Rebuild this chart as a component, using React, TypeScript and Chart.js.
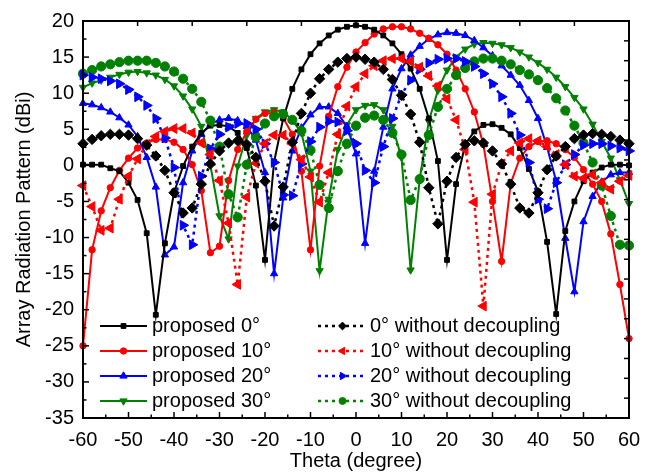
import React, { useEffect, useRef } from 'react';
import { Chart, registerables } from 'chart.js';

Chart.register(...registerables);

const theta = [-60, -58, -56, -54, -52, -50, -48, -46, -44, -42, -40, -38, -36, -34, -32, -30, -28, -26, -24, -22, -20, -18, -16, -14, -12, -10, -8, -6, -4, -2, 0, 2, 4, 6, 8, 10, 12, 14, 16, 18, 20, 22, 24, 26, 28, 30, 32, 34, 36, 38, 40, 42, 44, 46, 48, 50, 52, 54, 56, 58, 60];

const proposed0 = [0.1, 0.1, 0.1, -0.4, -0.8, -2.4, -4.8, -9.4, -20.7, -10.8, -3.8, -0.1, 2.6, 4.5, 5.5, 5.6, 5.4, 4.5, 2.4, -2.8, -13.1, 0.5, 6.5, 10.6, 13.3, 15.4, 16.9, 18.0, 18.8, 19.2, 19.4, 19.2, 18.8, 18.0, 16.9, 15.4, 13.4, 10.6, 6.5, 0.6, -13.1, -2.6, 2.9, 4.7, 5.6, 5.7, 5.2, 4.3, 2.4, -0.5, -3.6, -10.6, -20.6, -9.1, -5.0, -2.2, -1.0, -0.3, 0.1, 0.1, 0.0];
const proposed10 = [-25.0, -11.7, -6.3, -3.1, -0.7, 1.0, 2.4, 3.1, 3.6, 3.6, 3.2, 2.2, 0.1, -3.5, -12.1, -11.2, -2.1, 2.2, 4.7, 6.4, 7.2, 7.3, 6.6, 4.3, -0.8, -11.7, -0.1, 6.8, 10.9, 13.6, 15.7, 17.0, 18.2, 18.9, 19.2, 19.2, 18.9, 18.3, 17.6, 16.7, 15.4, 13.2, 10.6, 7.4, 2.9, -5.0, -13.3, -2.5, 1.0, 2.6, 3.3, 3.4, 3.0, 2.2, 1.1, -0.6, -2.6, -5.0, -9.5, -16.5, -24.0];
const proposed20 = [8.6, 8.4, 8.0, 7.4, 6.6, 5.6, 4.0, 1.1, -3.0, -12.4, -11.3, -2.4, 2.0, 4.3, 5.7, 6.3, 6.5, 6.2, 5.4, 3.5, -1.0, -15.0, -4.5, 2.0, 5.2, 7.0, 8.1, 8.1, 7.2, 5.4, 1.6, -10.8, -0.8, 5.3, 10.6, 13.4, 15.3, 16.5, 17.5, 18.1, 18.4, 18.3, 18.0, 17.3, 16.3, 15.2, 13.8, 12.5, 11.1, 9.0, 6.5, 2.5, -2.2, -10.1, -17.5, -7.8, -4.3, -2.3, -1.3, -1.0, -1.0];
const proposed30 = [10.8, 11.4, 11.8, 12.2, 12.6, 12.9, 13.0, 12.8, 12.5, 11.9, 11.0, 9.6, 7.8, 5.4, 0.0, -7.0, -10.2, -0.1, 4.2, 6.5, 7.4, 7.7, 7.4, 6.3, 4.5, -0.8, -14.6, -4.7, 2.2, 5.6, 7.7, 8.3, 8.4, 7.7, 5.4, 1.1, -14.5, -1.9, 6.1, 10.4, 13.2, 15.0, 16.1, 16.8, 17.0, 16.9, 16.7, 16.3, 15.7, 15.0, 14.2, 13.3, 12.2, 10.9, 9.4, 7.8, 5.7, 3.3, 1.0, -2.0, -5.3];

const noDecoupling0 = [3.0, 3.6, 4.1, 4.3, 4.3, 4.2, 3.7, 2.8, 1.3, -0.7, -3.8, -6.6, -5.9, -2.6, 0.2, 2.0, 3.1, 3.4, 2.9, 1.1, -2.2, -8.4, -3.0, 3.2, 7.2, 10.0, 12.0, 13.3, 14.3, 14.8, 15.0, 14.7, 14.3, 13.3, 11.9, 9.7, 7.1, 3.2, -3.1, -8.1, -2.2, 1.1, 2.9, 3.4, 3.1, 2.0, 0.2, -2.6, -5.9, -6.6, -3.8, -0.6, 1.3, 2.6, 3.7, 4.2, 4.4, 4.3, 4.0, 3.5, 3.0];
const noDecoupling10 = [-2.8, -5.7, -9.0, -8.7, -4.7, -1.5, 0.9, 2.9, 4.0, 4.7, 5.1, 5.1, 4.5, 3.1, 1.5, -2.1, -8.0, -16.5, -4.4, 0.3, 3.0, 4.2, 4.2, 3.0, 0.8, -1.6, -5.1, -1.0, 4.3, 8.2, 10.9, 12.7, 13.8, 14.5, 14.8, 14.8, 14.4, 13.6, 12.4, 11.0, 9.2, 6.3, 2.2, -5.1, -19.5, -4.0, 0.2, 2.0, 3.1, 3.7, 3.4, 2.6, 1.5, 0.1, -1.5, -1.8, -1.3, -2.4, -3.3, -2.2, -1.4];
const noDecoupling20 = [12.5, 12.2, 12.0, 11.7, 11.3, 10.5, 9.5, 8.3, 6.5, 3.8, -0.3, -8.3, -11.0, -1.5, 2.3, 4.3, 5.3, 5.8, 5.8, 5.0, 3.0, 0.4, -4.1, -4.2, 0.2, 3.3, 5.3, 6.1, 6.0, 4.8, 3.0, -0.7, -2.4, 2.6, 6.5, 9.8, 11.8, 13.3, 14.2, 14.7, 14.8, 14.8, 14.4, 13.7, 12.7, 11.3, 9.5, 7.2, 4.2, 0.4, -4.7, -6.0, -2.4, 0.1, 1.5, 2.8, 3.0, 3.0, 2.7, 2.4, 2.0];
const noDecoupling30 = [12.7, 13.2, 13.7, 14.0, 14.3, 14.5, 14.5, 14.5, 14.2, 13.7, 13.0, 12.0, 10.6, 8.8, 6.2, 2.6, -4.0, -7.2, 0.1, 3.9, 5.8, 6.8, 7.1, 6.3, 4.8, 2.1, -2.7, -5.9, -0.8, 3.0, 5.5, 6.6, 6.9, 6.3, 4.5, 1.5, -4.8, -1.9, 4.2, 8.1, 10.6, 12.5, 13.5, 14.4, 14.8, 14.8, 14.5, 14.0, 13.2, 12.6, 11.8, 10.7, 9.3, 7.6, 5.5, 3.1, 0.4, -2.8, -7.0, -11.0, -11.1];

const xTicks = [-60, -50, -40, -30, -20, -10, 0, 10, 20, 30, 40, 50, 60];
const yTicks = [-35, -30, -25, -20, -15, -10, -5, 0, 5, 10, 15, 20];

const proposedLabels = ['proposed 0°', 'proposed 10°', 'proposed 20°', 'proposed 30°'];
const noDecouplingLabels = ['0° without decoupling', '10° without decoupling', '20° without decoupling', '30° without decoupling'];

const FONT = "'Liberation Sans', Arial, Helvetica, sans-serif";

type MarkerSpec = { style: string; radius: number; rotation: number };

const seriesColors = ['#000000', '#ff0000', '#0000ff', '#008000'];
const proposedMarkers: MarkerSpec[] = [
  { style: 'rect', radius: 3.4, rotation: 0 },
  { style: 'circle', radius: 3.2, rotation: 0 },
  { style: 'triangle', radius: 4.2, rotation: 0 },
  { style: 'triangle', radius: 4.2, rotation: 180 },
];
const noDecMarkers: MarkerSpec[] = [
  { style: 'rectRot', radius: 5.2, rotation: 0 },
  { style: 'triangle', radius: 5.6, rotation: -90 },
  { style: 'triangle', radius: 5.6, rotation: 90 },
  { style: 'circle', radius: 4.6, rotation: 0 },
];

function drawMarker(ctx: CanvasRenderingContext2D, m: MarkerSpec, x: number, y: number, color: string) {
  const r = m.radius;
  ctx.save();
  ctx.fillStyle = color;
  ctx.strokeStyle = color;
  ctx.lineWidth = 1;
  ctx.beginPath();
  if (m.style === 'circle') {
    ctx.arc(x, y, r, 0, Math.PI * 2);
  } else if (m.style === 'rect') {
    const s = Math.SQRT1_2 * r;
    ctx.rect(x - s, y - s, 2 * s, 2 * s);
  } else if (m.style === 'rectRot') {
    ctx.moveTo(x, y - r);
    ctx.lineTo(x + r, y);
    ctx.lineTo(x, y + r);
    ctx.lineTo(x - r, y);
    ctx.closePath();
  } else {
    let rad = (m.rotation * Math.PI) / 180;
    ctx.moveTo(x + Math.sin(rad) * r, y - Math.cos(rad) * r);
    rad += (2 * Math.PI) / 3;
    ctx.lineTo(x + Math.sin(rad) * r, y - Math.cos(rad) * r);
    rad += (2 * Math.PI) / 3;
    ctx.lineTo(x + Math.sin(rad) * r, y - Math.cos(rad) * r);
    ctx.closePath();
  }
  ctx.fill();
  ctx.stroke();
  ctx.restore();
}

const framePlugin = {
  id: 'framePlugin',
  afterDraw(chart: any) {
    const { ctx, chartArea: a, scales } = chart;
    const xs = scales.x;
    const ys = scales.y;
    ctx.save();
    ctx.strokeStyle = '#000';
    ctx.lineWidth = 1.5;
    const seg = (x1: number, y1: number, x2: number, y2: number) => {
      ctx.beginPath();
      ctx.moveTo(x1, y1);
      ctx.lineTo(x2, y2);
      ctx.stroke();
    };
    for (let v = -60; v <= 60; v += 5) {
      const px = xs.getPixelForValue(v);
      seg(px, a.bottom, px, a.bottom - (v % 10 === 0 ? 6 : 3.5));
    }
    for (let v = -35; v <= 20; v += 2.5) {
      const py = ys.getPixelForValue(v);
      seg(a.left, py, a.left + (Math.abs(v % 5) < 1e-6 ? 6 : 3.5), py);
    }
    for (let i = 0; i <= 10; i++) {
      const px = a.left + (a.width * i) / 10;
      seg(px, a.top, px, a.top + 5);
    }
    for (let i = 0; i <= 20; i++) {
      const py = a.top + (a.height * i) / 20;
      seg(a.right, py, a.right - 5, py);
    }
    ctx.lineWidth = 2;
    ctx.strokeRect(a.left, a.top, a.width, a.height);
    ctx.restore();
  },
};

const legendPlugin = {
  id: 'legendPlugin',
  afterDatasetsDraw(chart: any) {
    const { ctx } = chart;
    ctx.save();
    ctx.font = `20px ${FONT}`;
    ctx.textBaseline = 'middle';
    ctx.fillStyle = '#000';
    const rows = [326, 351, 376, 401];
    for (let i = 0; i < 4; i++) {
      const y = rows[i];
      const c = seriesColors[i];
      // solid sample
      ctx.strokeStyle = c;
      ctx.lineWidth = 2;
      ctx.setLineDash([]);
      ctx.beginPath();
      ctx.moveTo(100, y);
      ctx.lineTo(147, y);
      ctx.stroke();
      drawMarker(ctx, proposedMarkers[i], 123.5, y, c);
      ctx.fillStyle = '#000';
      ctx.fillText(proposedLabels[i], 152, y);
      // dotted sample
      ctx.strokeStyle = c;
      ctx.lineWidth = 2.5;
      ctx.setLineDash([3, 4]);
      ctx.beginPath();
      ctx.moveTo(318, y);
      ctx.lineTo(367, y);
      ctx.stroke();
      ctx.setLineDash([]);
      const m = noDecMarkers[i];
      drawMarker(ctx, { ...m, radius: m.radius * 0.75 }, 342.5, y, c);
      ctx.fillStyle = '#000';
      ctx.fillText(noDecouplingLabels[i], 370, y);
    }
    ctx.restore();
  },
};

function toPoints(values: number[]) {
  return theta.map((t, i) => ({ x: t, y: values[i] }));
}

export default function App() {
  const canvasRef = useRef<HTMLCanvasElement | null>(null);

  useEffect(() => {
    const canvas = canvasRef.current;
    if (!canvas) return;
    const proposedSeries = [proposed0, proposed10, proposed20, proposed30];
    const noDecSeries = [noDecoupling0, noDecoupling10, noDecoupling20, noDecoupling30];
    const datasets: any[] = [];
    noDecSeries.forEach((vals, i) => {
      datasets.push({
        label: noDecouplingLabels[i],
        data: toPoints(vals),
        borderColor: seriesColors[i],
        backgroundColor: seriesColors[i],
        borderWidth: 2.5,
        borderDash: [3, 4],
        pointStyle: noDecMarkers[i].style,
        pointRadius: noDecMarkers[i].radius,
        pointRotation: noDecMarkers[i].rotation,
        pointBorderWidth: 1,
        pointBorderColor: seriesColors[i],
        pointBackgroundColor: seriesColors[i],
        tension: 0,
        clip: false,
      });
    });
    proposedSeries.forEach((vals, i) => {
      datasets.push({
        label: proposedLabels[i],
        data: toPoints(vals),
        borderColor: seriesColors[i],
        backgroundColor: seriesColors[i],
        borderWidth: 2,
        pointStyle: proposedMarkers[i].style,
        pointRadius: proposedMarkers[i].radius,
        pointRotation: proposedMarkers[i].rotation,
        pointBorderWidth: 1,
        pointBorderColor: seriesColors[i],
        pointBackgroundColor: seriesColors[i],
        tension: 0,
        clip: false,
      });
    });

    const chart = new Chart(canvas, {
      type: 'line',
      data: { datasets },
      options: {
        responsive: false,
        animation: false,
        devicePixelRatio: 1,
        layout: { padding: { left: 0, right: 28, top: 17, bottom: 0 } },
        plugins: {
          legend: { display: false },
          tooltip: { enabled: false },
        },
        scales: {
          x: {
            type: 'linear',
            min: -60,
            max: 60,
            afterBuildTicks: (s: any) => {
              s.ticks = xTicks.map((v) => ({ value: v }));
            },
            afterFit: (s: any) => {
              s.height = 58;
            },
            ticks: {
              color: '#000',
              font: { family: FONT, size: 20 },
              padding: 10,
              maxRotation: 0,
              autoSkip: false,
            },
            grid: { display: false, drawTicks: false },
            border: { display: false },
            title: {
              display: true,
              text: 'Theta (degree)',
              color: '#000',
              font: { family: FONT, size: 20 },
              padding: { top: 0, bottom: 3 },
            },
          },
          y: {
            type: 'linear',
            min: -35,
            max: 20,
            afterBuildTicks: (s: any) => {
              s.ticks = yTicks.map((v) => ({ value: v }));
            },
            afterFit: (s: any) => {
              s.width = 83;
            },
            ticks: {
              color: '#000',
              font: { family: FONT, size: 20 },
              padding: 9,
              autoSkip: false,
            },
            grid: { display: false, drawTicks: false },
            border: { display: false },
            title: {
              display: true,
              text: 'Array Radiation Pattern (dBi)',
              color: '#000',
              font: { family: FONT, size: 20 },
              padding: { top: 12, bottom: 0 },
            },
          },
        },
      },
      plugins: [framePlugin, legendPlugin],
    });
    return () => chart.destroy();
  }, []);

  return (
    <div style={{ position: 'fixed', left: 0, top: 0, width: 657, height: 476, background: '#fff' }}>
      <canvas ref={canvasRef} width={657} height={476} style={{ width: 657, height: 476, display: 'block' }} />
    </div>
  );
}
